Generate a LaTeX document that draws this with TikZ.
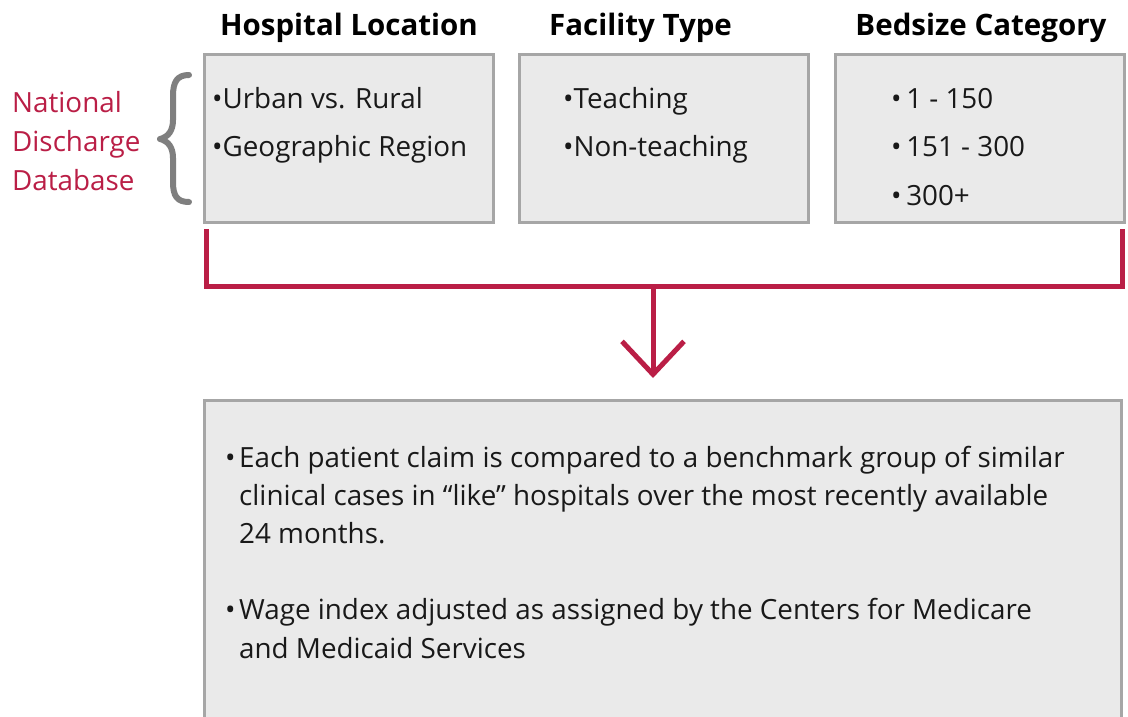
\documentclass[tikz,border=0pt]{standalone}
\usepackage{fontspec}
\setmainfont{Open Sans}
\usetikzlibrary{arrows.meta}
\definecolor{crim}{RGB}{186,30,70}
\definecolor{boxfill}{RGB}{234,234,234}
\definecolor{boxline}{RGB}{166,166,166}
\definecolor{bracegray}{RGB}{127,127,127}
\tikzset{
  catbox/.style={draw=boxline, line width=3pt, fill=boxfill},
  head/.style={font=\fontsize{29.5}{33}\selectfont\bfseries, inner sep=0pt, anchor=base},
  itemtxt/.style={font=\fontsize{27.8}{32}\selectfont, inner sep=0pt, anchor=base west, text=black!90},
  redtxt/.style={font=\fontsize{27.8}{32}\selectfont, inner sep=0pt, anchor=base west, text=crim},
  conn/.style={draw=crim, line width=5pt}
}
\begin{document}
\begin{tikzpicture}[x=1pt,y=-1pt]
\useasboundingbox (0,0) rectangle (1128,717);
\clip (0,0) rectangle (1128,717);
\fill[white] (0,0) rectangle (1128,717);
% boxes
\path[catbox] (204,55) rectangle (493,222);
\path[catbox] (519,55) rectangle (808,222);
\path[catbox] (835,55) rectangle (1124,222);
\path[catbox] (204,400) rectangle (1121,740);
\node[minimum width=289pt, minimum height=167pt, inner sep=0pt] (b1) at (348.5,138.5) {};
\node[minimum width=289pt, minimum height=167pt, inner sep=0pt] (b2) at (663.5,138.5) {};
\node[minimum width=289pt, minimum height=167pt, inner sep=0pt] (b3) at (979.5,138.5) {};
\node[minimum width=917pt, minimum height=317pt, inner sep=0pt] (b4) at (662.5,558.5) {};
% headings
\node[head] (h1) at (349,36) {Hospital Location};
\node[head] (h2) at (640.5,36) {Facility Type};
\node[head] (h3) at (981,36) {Bedsize Category};
% box contents
\node[itemtxt] (t11) at (212,108) {•Urban vs. Rural};
\node[itemtxt] (t12) at (212,157) {•Geographic Region};
\node[itemtxt] (t21) at (563,108) {•Teaching};
\node[itemtxt] (t22) at (563,157) {•Non-teaching};
\node[itemtxt] (t31) at (891,108) {•\,1 - 150};
\node[itemtxt] (t32) at (891,157) {•\,151 - 300};
\node[itemtxt] (t33) at (891,205) {•\,300+};
% bottom box text
\node[itemtxt] (u0) at (225,467) {•};
\node[itemtxt] (u1) at (239,467) {Each patient claim is compared to a benchmark group of similar};
\node[itemtxt] (u2) at (239,505) {clinical cases in “like” hospitals over the most recently available};
\node[itemtxt] (u3) at (239,543) {24 months.};
\node[itemtxt] (v0) at (225,619) {•};
\node[itemtxt] (v1) at (239,619) {Wage index adjusted as assigned by the Centers for Medicare};
\node[itemtxt] (v2) at (239,658) {and Medicaid Services};
% left label
\node[redtxt] (n1) at (12,112) {National};
\node[redtxt] (n2) at (12,151) {Discharge};
\node[redtxt] (n3) at (12,190) {Database};
% brace
\draw[bracegray, line width=6pt, line join=round, line cap=round] (189,75) .. controls (177,75) and (173,82) .. (173,96)
  -- (173,120) .. controls (173,131) and (168,137) .. (160,139)
  .. controls (168,141) and (173,147) .. (173,158)
  -- (173,182) .. controls (173,196) and (177,202) .. (189,202);
% bracket and arrow
\coordinate (bl) at (206,229);
\coordinate (br) at (1122,229);
\coordinate (mid) at (653,286);
\coordinate (tip) at (653,378);
\draw[conn] (bl) |- (br |- mid) -- (br);
\draw[conn, -{Straight Barb[length=33pt,width=62pt,line width=5pt]}] (mid) -- (tip);
\end{tikzpicture}
\end{document}
